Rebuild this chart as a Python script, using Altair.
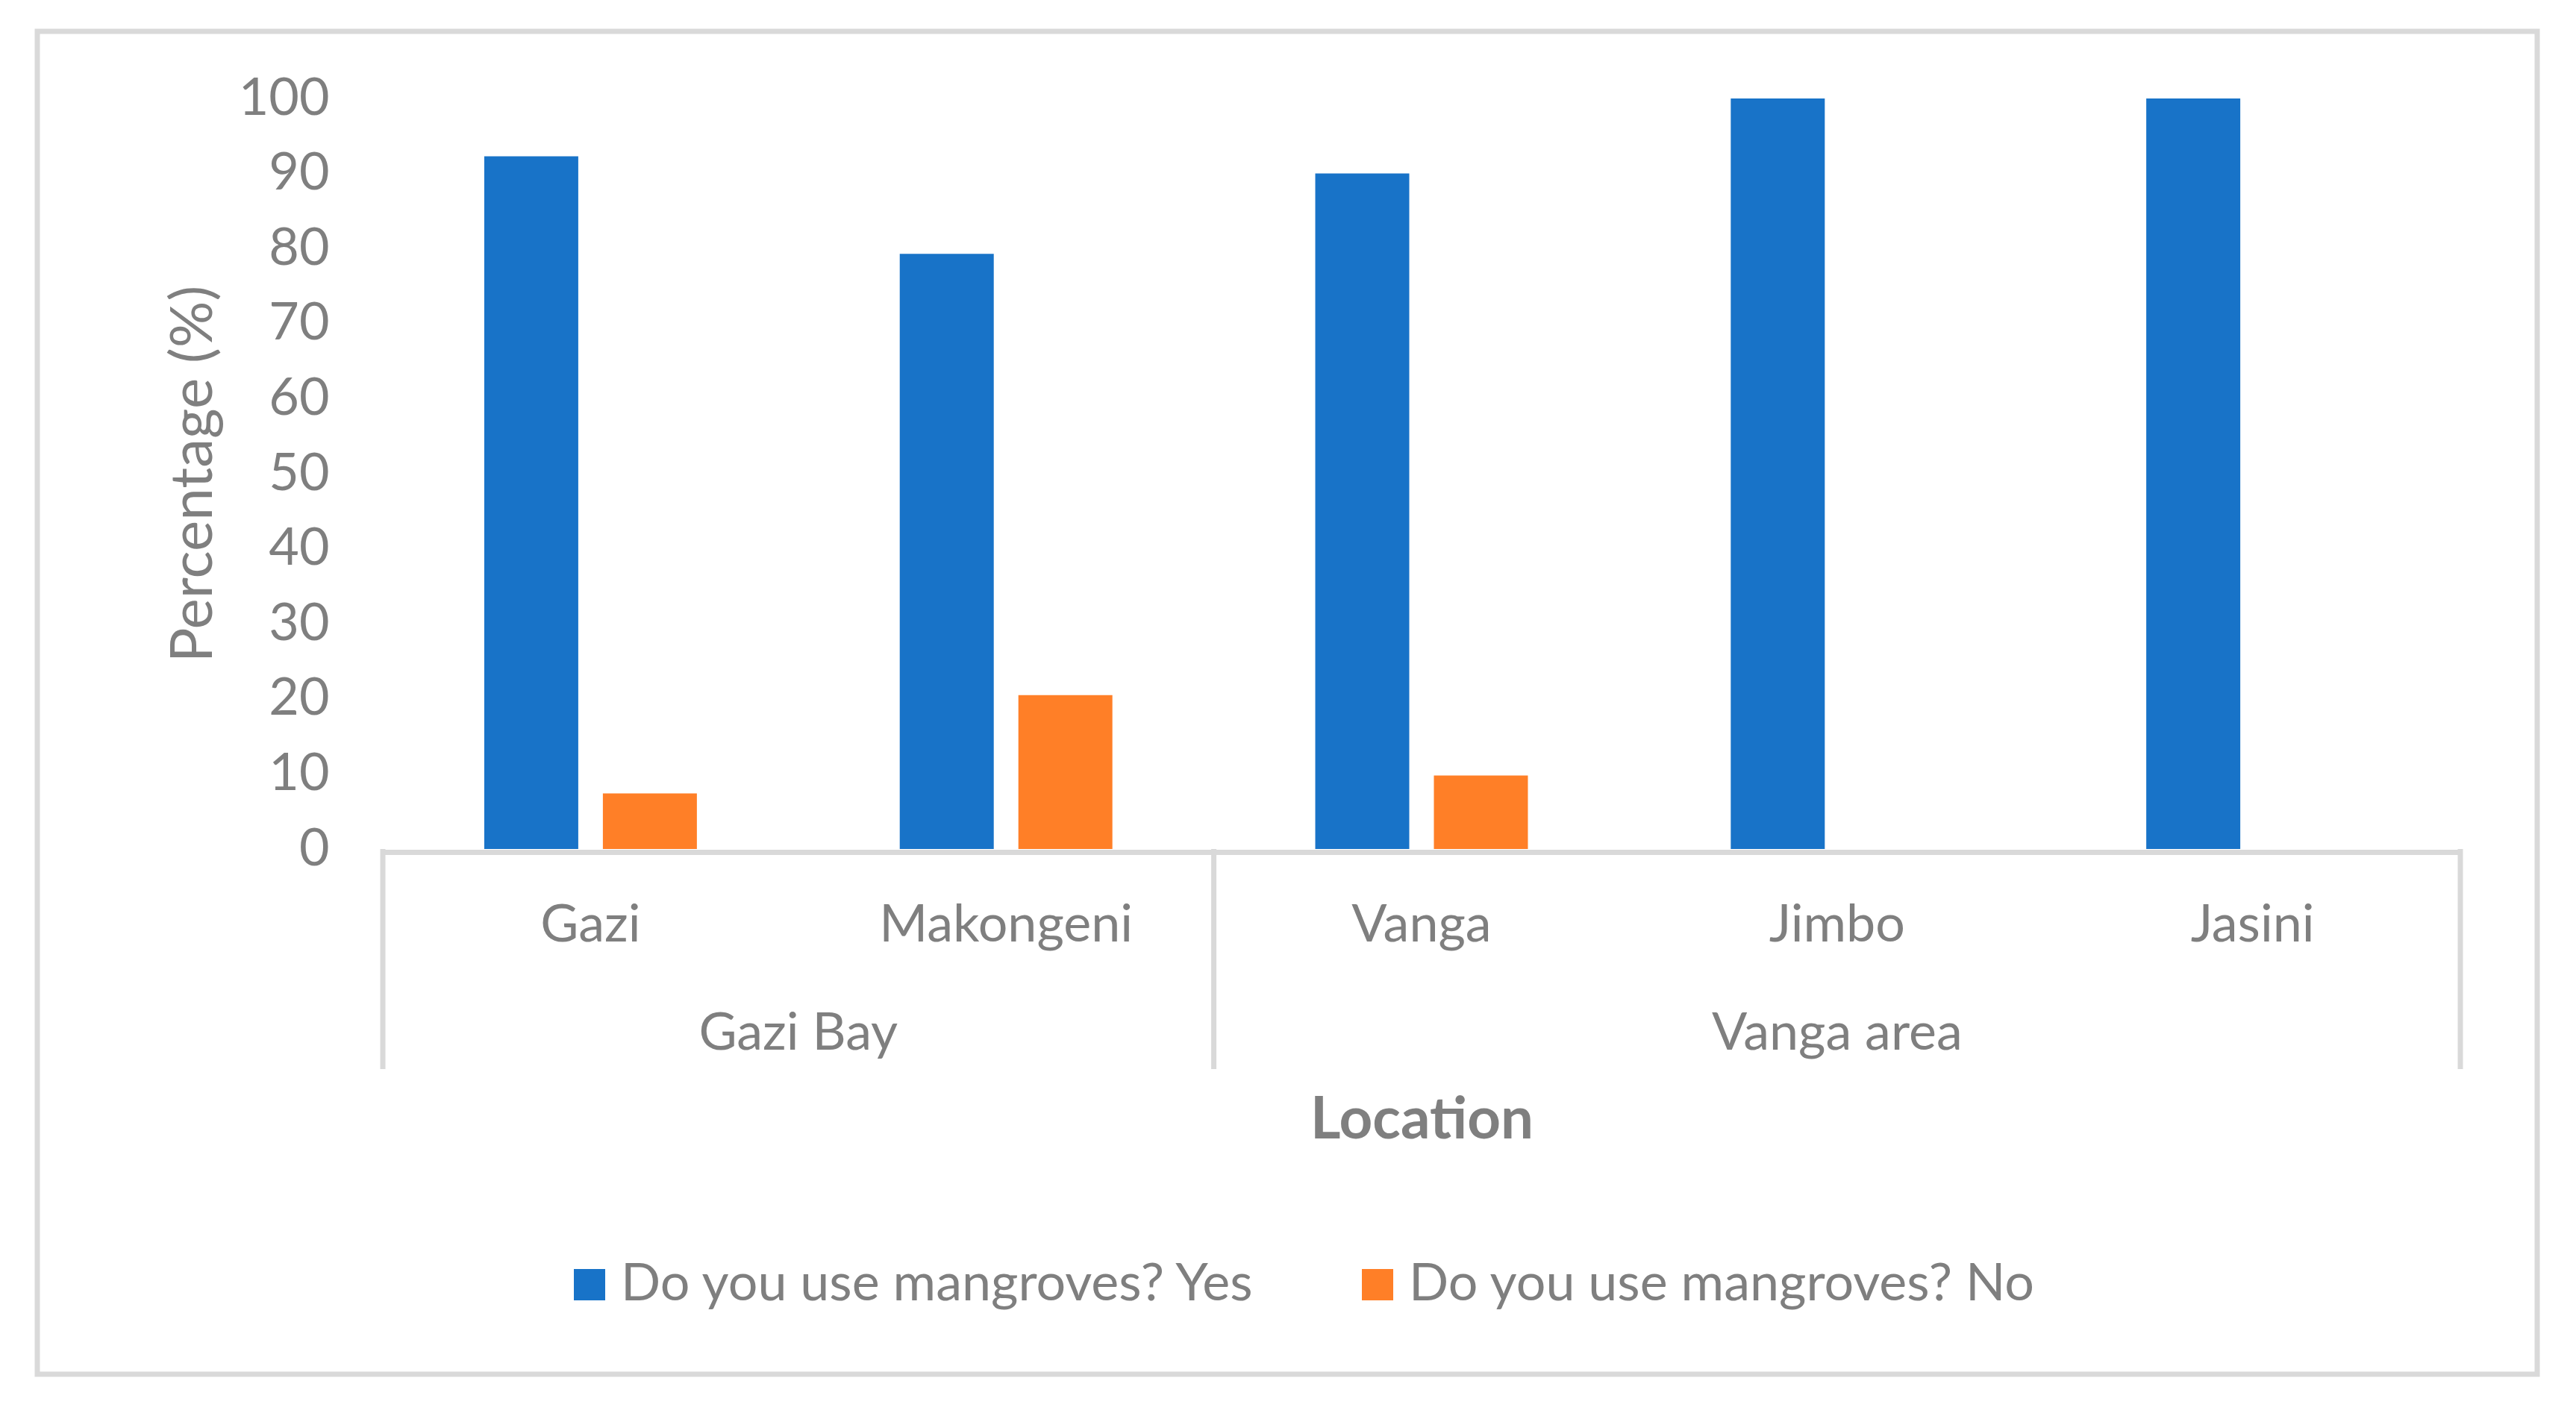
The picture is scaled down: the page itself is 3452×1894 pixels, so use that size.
import altair as alt
import pandas as pd

# ---- data ----
locations = ["Gazi", "Makongeni", "Vanga", "Jimbo", "Jasini"]
yes_values = [92.3, 79.3, 90.0, 100.0, 100.0]
no_values = [7.4, 20.5, 9.8, 0.0, 0.0]
series_names = ["Do you use mangroves? Yes", "Do you use mangroves? No"]
series_colors = ["#1873C8", "#FF7F27"]
group_names = ["Gazi Bay", "Vanga area"]
group_start = [0, 2]
group_end = [2, 5]
y_ticks = [0, 10, 20, 30, 40, 50, 60, 70, 80, 90, 100]

# ---- layout ----
W, H = 2784, 1006
FONT = "Lato"
GRAY = "#7F7F7F"
LINE = "#D9D9D9"
FS = 70

rows = []
for loc, y, n in zip(locations, yes_values, no_values):
    rows.append({"location": loc, "series": series_names[0], "value": y})
    rows.append({"location": loc, "series": series_names[1], "value": n})
bars_df = pd.DataFrame(rows)

groups_df = pd.DataFrame({"group": group_names, "start": group_start, "end": group_end})
bounds = sorted(set(group_start) | set(group_end))
bounds_df = pd.DataFrame({"b": bounds})
n_cat = len(locations)

bars = alt.Chart(bars_df).mark_bar().encode(
    x=alt.X(
        "location:N",
        sort=locations,
        scale=alt.Scale(paddingInner=0, paddingOuter=0),
        axis=alt.Axis(
            title="Location",
            titleFont=FONT,
            titleFontSize=78,
            titleFontWeight="bold",
            titleColor=GRAY,
            titleY=383,
            titleBaseline="alphabetic",
            labelFont=FONT,
            labelFontSize=FS,
            labelColor=GRAY,
            labelAngle=0,
            labelBaseline="alphabetic",
            labelPadding=119,
            labelLimit=0,
            ticks=False,
            tickSize=0,
            domainColor=LINE,
            domainWidth=7,
            offset=4,
            grid=False,
        ),
    ),
    xOffset=alt.XOffset(
        "series:N",
        sort=series_names,
        scale=alt.Scale(paddingInner=0.2075, paddingOuter=0.855),
    ),
    y=alt.Y(
        "value:Q",
        scale=alt.Scale(domain=[0, 100], nice=False),
        axis=alt.Axis(
            values=y_ticks,
            title="Percentage (%)",
            titleFont=FONT,
            titleFontSize=78,
            titleFontWeight="normal",
            titleColor=GRAY,
            titleAngle=270,
            titleBaseline="alphabetic",
            titleX=-230,
            titleY=H / 2,
            labelFont=FONT,
            labelFontSize=FS,
            labelColor=GRAY,
            labelPadding=72,
            ticks=False,
            tickSize=0,
            domain=False,
            grid=False,
        ),
    ),
    color=alt.Color(
        "series:N",
        sort=series_names,
        scale=alt.Scale(domain=series_names, range=series_colors),
        legend=alt.Legend(
            title=None,
            orient="none",
            legendX=242,
            legendY=1555,
            direction="horizontal",
            symbolType="square",
            symbolSize=1764,
            symbolStrokeWidth=0,
            labelFont=FONT,
            labelFontSize=FS,
            labelColor=GRAY,
            labelOffset=7,
            labelLimit=0,
            columnPadding=127,
            padding=0,
        ),
    ),
)

xq = alt.Scale(domain=[0, n_cat], nice=False, zero=False)

sep_rules = alt.Chart(bounds_df).mark_rule(color=LINE, strokeWidth=7).encode(
    x=alt.X("b:Q", scale=xq, axis=None),
    y=alt.value(H),
    y2=alt.value(H + 295),
)

group_text = alt.Chart(groups_df).transform_calculate(
    mid="(datum.start + datum.end) / 2"
).mark_text(
    font=FONT, fontSize=FS, color=GRAY, baseline="alphabetic", align="center"
).encode(
    x=alt.X("mid:Q", scale=xq, axis=None),
    y=alt.value(H + 269),
    text="group:N",
)

frame = alt.Chart(pd.DataFrame({"k": [0]})).mark_rect(
    fill="transparent", stroke=LINE, strokeWidth=7
).encode(
    x=alt.value(-463),
    x2=alt.value(2887),
    y=alt.value(-90),
    y2=alt.value(1710),
)

chart = (
    alt.layer(frame, bars, sep_rules, group_text)
    .resolve_scale(x="independent")
    .properties(
        width=W,
        height=H,
        autosize=alt.AutoSizeParams(type="none"),
        padding={"left": 505, "top": 124, "right": 140, "bottom": 730},
        background="white",
    )
    .configure_view(stroke="transparent")
)

chart.save("out.html", embed_options={"renderer": "svg", "actions": False})
